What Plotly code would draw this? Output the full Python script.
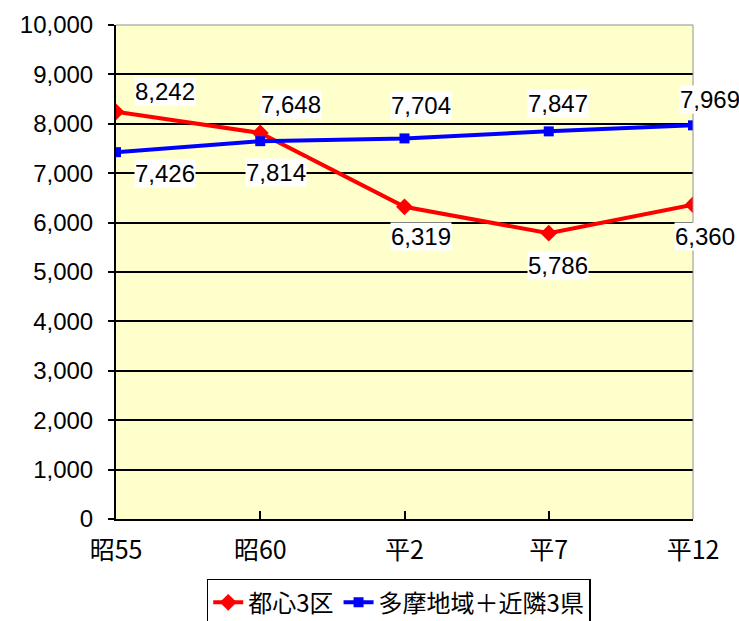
import plotly.graph_objects as go

categories = ["昭55", "昭60", "平2", "平7", "平12"]
toshin = [8242, 7814, 6319, 5786, 6360]
tama = [7426, 7648, 7704, 7847, 7969]
names = ["都心3区", "多摩地域＋近隣3県"]

# label offsets in pixels (xshift, yshift)
toshin_off = [(49, 20), (16, -40), (16, -30), (9, -32), (12, -32)]
tama_off = [(49, -21), (31, 37), (16, 33), (9, 28), (17, 26)]

FONT = "Liberation Sans, Arial, Noto Sans CJK JP, sans-serif"
x = list(range(len(categories)))

fig = go.Figure()
fig.add_trace(go.Scatter(x=x, y=toshin, name=names[0], mode="lines+markers",
                         line=dict(color="#FF0000", width=4),
                         marker=dict(symbol="diamond", size=13, color="#FF0000")))
fig.add_trace(go.Scatter(x=x, y=tama, name=names[1], mode="lines+markers",
                         line=dict(color="#0000FF", width=4),
                         marker=dict(symbol="square", size=10, color="#0000FF")))

for vals, offs in ((toshin, toshin_off), (tama, tama_off)):
    for xi, v, (dx, dy) in zip(x, vals, offs):
        fig.add_annotation(x=xi, y=v, text=f"{v:,}", showarrow=False,
                           xshift=dx, yshift=dy, bgcolor="white", borderpad=0,
                           font=dict(family=FONT, size=24, color="black"))

fig.add_shape(type="line", xref="paper", yref="paper", x0=0, x1=1, y0=1, y1=1,
              line=dict(color="#909090", width=1), layer="above")
fig.add_shape(type="line", xref="paper", yref="paper", x0=1, x1=1, y0=0, y1=1,
              line=dict(color="#909090", width=1), layer="above")

fig.update_layout(
    width=739, height=621,
    margin=dict(l=116, r=46, t=25, b=102, autoexpand=False),
    paper_bgcolor="white", plot_bgcolor="#FFFFCC",
    font=dict(family=FONT, size=24, color="black"),
    showlegend=True,
    legend=dict(orientation="h", x=0.49, xanchor="center",
                yref="container", y=0.068, yanchor="top",
                bordercolor="black", borderwidth=1.5, bgcolor="white",
                font=dict(family="Noto Sans CJK JP, Liberation Sans", size=24),
                itemwidth=30, tracegroupgap=0),
)
fig.update_xaxes(range=[0, 4], tickvals=x, ticktext=categories,
                 showgrid=False, zeroline=False,
                 showline=True, linecolor="black", linewidth=2,
                 ticks="inside", ticklen=8, tickwidth=1.5, tickcolor="black",
                 ticklabelstandoff=8,
                 tickfont=dict(family="Liberation Sans Narrow, Noto Sans CJK JP, Liberation Sans", size=25))
fig.update_yaxes(range=[0, 10000], dtick=1000, tickformat=",",
                 showgrid=True, gridcolor="black", gridwidth=1.5, zeroline=False,
                 showline=True, linecolor="black", linewidth=2,
                 ticks="outside", ticklen=6, tickwidth=1.5, tickcolor="black",
                 ticklabelstandoff=10,
                 tickfont=dict(family=FONT, size=24))

fig.write_html("out.html")
